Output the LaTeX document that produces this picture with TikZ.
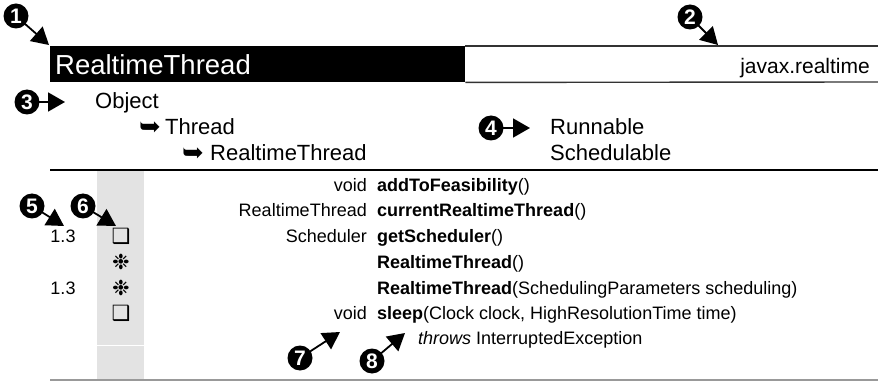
\documentclass[tikz,border=0pt]{standalone}
\usepackage{fontspec}
\setmainfont{Liberation Sans}
\newfontfamily\symfont{DejaVu Sans}
\usetikzlibrary{arrows.meta,positioning}

\begin{document}
\begin{tikzpicture}[
  x=1pt, y=-1pt,
  callout/.style={circle, fill=black, text=white, inner sep=0pt, minimum size=25pt,
                  font=\fontsize{21}{21}\selectfont\bfseries},
  ptr/.style={-{Triangle[length=17pt,width=19pt]}, line width=1.8pt, shorten <=-2pt},
  headbar/.style={fill=black, text=white, anchor=north west, minimum height=36pt,
                  text width=405pt, inner xsep=5pt, align=left,
                  font=\fontsize{27.5}{27.5}\selectfont},
  hier/.style={anchor=base west, inner sep=0pt, font=\fontsize{22}{22}\selectfont},
  hook/.style={anchor=base west, inner sep=0pt, font=\symfont\fontsize{26}{26}\selectfont},
  ret/.style={anchor=base east, inner sep=0pt, font=\fontsize{18}{18}\selectfont},
  meth/.style={anchor=base west, inner sep=0pt, font=\fontsize{18}{18}\selectfont},
  flag/.style={inner sep=0pt, font=\symfont\fontsize{21}{21}\selectfont},
  vers/.style={inner sep=0pt, font=\fontsize{18}{18}\selectfont},
]
  \useasboundingbox (0,0) rectangle (878,382);

  % header
  \node[headbar] (hdr) at (50,46) {RealtimeThread};
  \draw[line width=1.4pt, black!80] (hdr.north east) -- (878,46);
  \draw[line width=1.4pt, black!80] (hdr.south east) -- (878,82);
  \node[anchor=base east, inner sep=0pt, font=\fontsize{21}{21}\selectfont] (pkg) at (870,74) {javax.realtime};

  % class hierarchy
  \node[hier] (obj) at (95,109) {Object};
  \node[hook] (h1) at (139,136) {➥};
  \node[hier] (thr) at (165,135) {Thread};
  \node[hook] (h2) at (182,162) {➥};
  \node[hier] (rtt) at (210,161) {RealtimeThread};
  \node[hier] (run) at (550,135) {Runnable};
  \node[hier] (sch) at (550,161) {Schedulable};
  \draw[line width=1.3pt] (50,170) -- (878,170);

  % member table
  \fill[black!11] (97,171) rectangle (144,380);
  \draw[white, line width=1pt] (97,345) -- (144,345);
  \draw[line width=1.3pt, black!40] (50,380) -- (878,380);

  \node[ret]  (r1) at (367,192) {void};
  \node[meth] (m1) at (377,192) {\textbf{addToFeasibility}()};
  \node[ret]  (r2) at (367,217) {RealtimeThread};
  \node[meth] (m2) at (377,217) {\textbf{currentRealtimeThread}()};
  \node[ret]  (r3) at (367,242) {Scheduler};
  \node[meth] (m3) at (377,242) {\textbf{getScheduler}()};
  \node[meth] (m4) at (377,268) {\textbf{RealtimeThread}()};
  \node[meth] (m5) at (377,294) {\textbf{RealtimeThread}(SchedulingParameters scheduling)};
  \node[ret]  (r6) at (367,319) {void};
  \node[meth] (m6) at (377,319) {\textbf{sleep}(Clock clock, HighResolutionTime time)};
  \node[meth] (m7) at (418,344) {\textit{throws} InterruptedException};

  \node[vers] (v3) at (63,236) {1.3};
  \node[vers] (v5) at (63,288) {1.3};
  \node[flag] (k3) at (121,236) {❑};
  \node[flag] (k4) at (121,262) {❉};
  \node[flag] (k5) at (121,288) {❉};
  \node[flag] (k6) at (121,313) {❑};

  % callouts
  \node[callout] (c1) at (16,16) {1};
  \coordinate (t1) at (49,45);
  \draw[ptr] (c1) -- (t1);
  \node[callout] (c2) at (690,17) {2};
  \coordinate (t2) at (718,45);
  \draw[ptr] (c2) -- (t2);
  \node[callout] (c3) at (27,102) {3};
  \coordinate (t3) at (65,102);
  \draw[ptr] (c3) -- (t3);
  \node[callout] (c4) at (491,128) {4};
  \coordinate (t4) at (530,128);
  \draw[ptr] (c4) -- (t4);
  \node[callout] (c5) at (32,206) {5};
  \coordinate (t5) at (64,226);
  \draw[ptr] (c5) -- (t5);
  \node[callout] (c6) at (83,206) {6};
  \coordinate (t6) at (116,226);
  \draw[ptr] (c6) -- (t6);
  \node[callout] (c7) at (300,358) {7};
  \coordinate (t7) at (340,332);
  \draw[ptr] (c7) -- (t7);
  \node[callout] (c8) at (372,361) {8};
  \coordinate (t8) at (405,333);
  \draw[ptr] (c8) -- (t8);
\end{tikzpicture}
\end{document}
